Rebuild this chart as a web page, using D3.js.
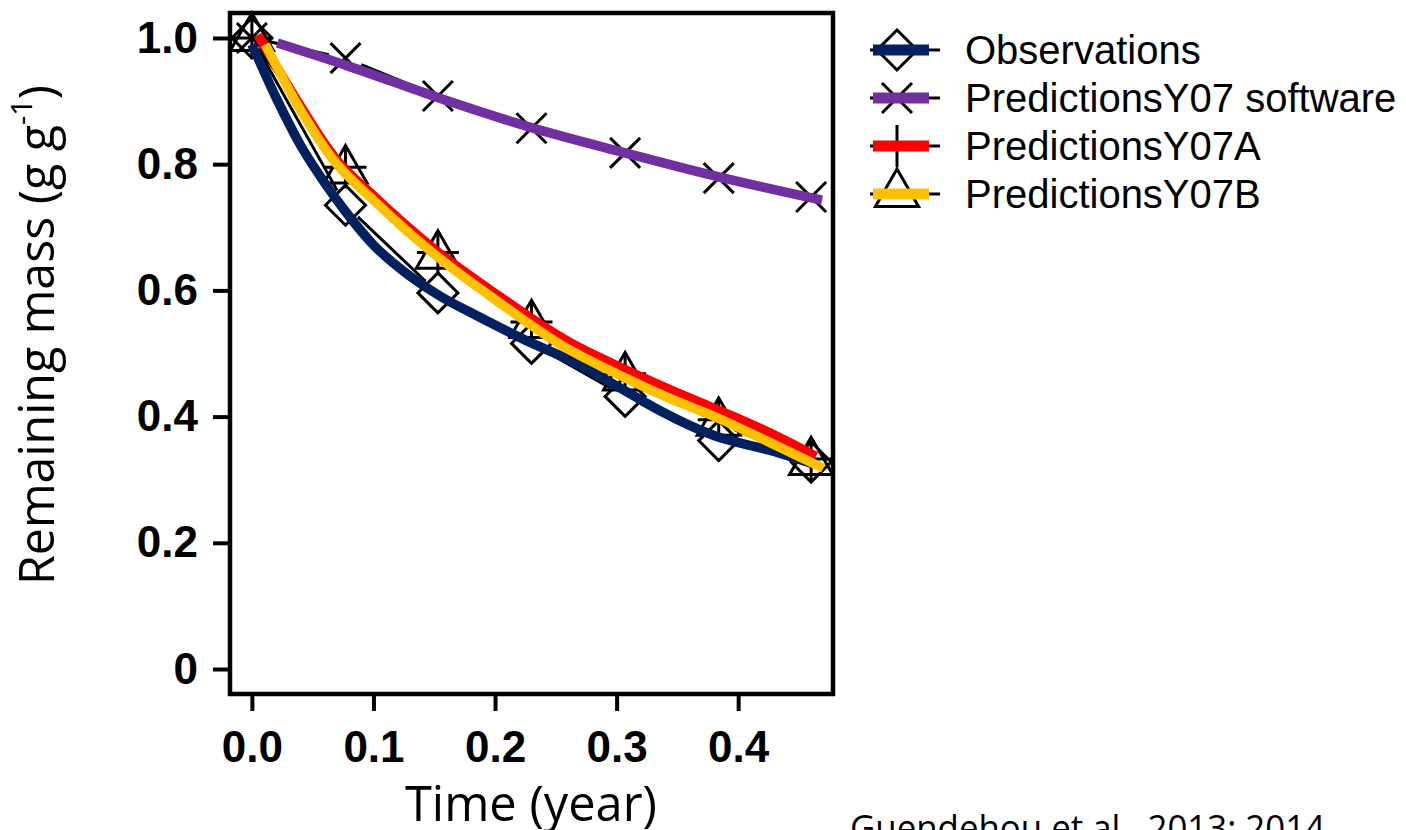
<!DOCTYPE html>
<html>
<head>
<meta charset="utf-8">
<script src="https://cdn.jsdelivr.net/npm/d3@7"></script>
<style>
  body { margin: 0; background: white; }
</style>
</head>
<body>
<div id="container"></div>
<script>
let w = 1406;
let h = 830;

// sampling dates of the litterbags (year)
let times = [0, 0.077, 0.153, 0.230, 0.307, 0.384, 0.460];

// remaining mass at each sampling date (black R markers)
let observations = [1.0, 0.735, 0.596, 0.516, 0.432, 0.362, 0.328];
let predSoftware = [1.0, 0.968, 0.908, 0.857, 0.818, 0.778, 0.748];
let predA = [1.0, 0.795, 0.660, 0.550, 0.468, 0.395, 0.333];
let predB = [1.0, 0.790, 0.655, 0.545, 0.462, 0.390, 0.328];

// coloured curves drawn over the R plot
let obsCurveT = [0, 0.02, 0.04, 0.06, 0.077, 0.1, 0.125, 0.154, 0.188, 0.224, 0.261, 0.306, 0.335, 0.38, 0.425, 0.46];
let obsCurveV = [0.99, 0.905, 0.83, 0.77, 0.725, 0.672, 0.63, 0.592, 0.557, 0.522, 0.49, 0.442, 0.41, 0.37, 0.347, 0.326];
let softCurveT = [0.021, 0.077, 0.154, 0.23, 0.307, 0.384, 0.469];
let softCurveV = [0.992, 0.957, 0.905, 0.858, 0.818, 0.78, 0.743];
let aCurveT = [0.005, 0.04, 0.067, 0.1, 0.149, 0.204, 0.261, 0.30, 0.34, 0.384, 0.425, 0.464];
let aCurveV = [1.005, 0.892, 0.813, 0.75, 0.667, 0.59, 0.518, 0.481, 0.446, 0.41, 0.375, 0.337];
let bCurveT = [0.011, 0.04, 0.067, 0.1, 0.149, 0.204, 0.261, 0.30, 0.34, 0.384, 0.425, 0.47];
let bCurveV = [0.99, 0.886, 0.807, 0.743, 0.659, 0.58, 0.506, 0.468, 0.432, 0.397, 0.36, 0.318];

let seriesNames = ["Observations", "PredictionsY07 software", "PredictionsY07A", "PredictionsY07B"];
let seriesColors = ["#002060", "#7030A0", "#FF0000", "#FFC000"];
let seriesShapes = ["diamond", "cross", "plus", "triangle"];

let xTicks = [0, 0.1, 0.2, 0.3, 0.4];
let xTickLabels = ["0.0", "0.1", "0.2", "0.3", "0.4"];
let yTicks = [0, 0.2, 0.4, 0.6, 0.8, 1.0];
let yTickLabels = ["0", "0.2", "0.4", "0.6", "0.8", "1.0"];

let box = { left: 230, top: 13, right: 833, bottom: 694 };

let viz = d3.select("#container")
  .append("svg")
  .attr("width", w)
  .attr("height", h)
  .style("background-color", "white");

let xScale = d3.scaleLinear().domain([-0.018, 0.478]).range([box.left, box.right]);
let yScale = d3.scaleLinear().domain([-0.0396, 1.0396]).range([box.bottom, box.top]);

function markerPath(shape, cx, cy) {
  let p = d3.path();
  if (shape == "diamond") {
    let r = 20;
    p.moveTo(cx, cy - r); p.lineTo(cx + r, cy); p.lineTo(cx, cy + r); p.lineTo(cx - r, cy); p.closePath();
  } else if (shape == "cross") {
    let r = 15;
    p.moveTo(cx - r, cy - r); p.lineTo(cx + r, cy + r);
    p.moveTo(cx - r, cy + r); p.lineTo(cx + r, cy - r);
  } else if (shape == "plus") {
    let r = 21;
    p.moveTo(cx - r, cy); p.lineTo(cx + r, cy);
    p.moveTo(cx, cy - r); p.lineTo(cx, cy + r);
  } else {
    let r = 16;
    p.moveTo(cx, cy - 1.555 * r); p.lineTo(cx + 1.347 * r, cy + 0.778 * r); p.lineTo(cx - 1.347 * r, cy + 0.778 * r); p.closePath();
  }
  return p.toString();
}

// R "type b" line: segments between points with a gap round each point
function gappedPath(pts, gap) {
  let p = d3.path();
  for (let i = 0; i < pts.length - 1; i++) {
    let [x1, y1] = pts[i];
    let [x2, y2] = pts[i + 1];
    let len = Math.hypot(x2 - x1, y2 - y1);
    if (len <= 2 * gap) continue;
    let ux = (x2 - x1) / len, uy = (y2 - y1) / len;
    p.moveTo(x1 + ux * gap, y1 + uy * gap);
    p.lineTo(x2 - ux * gap, y2 - uy * gap);
  }
  return p.toString();
}

let markerData = [observations, predSoftware, predA, predB];
let curveData = [[obsCurveT, obsCurveV], [softCurveT, softCurveV], [aCurveT, aCurveV], [bCurveT, bCurveV]];

// black R lines and markers
markerData.forEach((vals, s) => {
  let pts = times.map((t, i) => [xScale(t), yScale(vals[i])]);
  viz.append("path")
    .attr("d", gappedPath(pts, 17))
    .attr("fill", "none")
    .attr("stroke", "black")
    .attr("stroke-width", 3);
  viz.selectAll(".m" + s)
    .data(pts)
    .enter()
    .append("path")
    .attr("class", "m" + s)
    .attr("d", d => markerPath(seriesShapes[s], d[0], d[1]))
    .attr("fill", "none")
    .attr("stroke", "black")
    .attr("stroke-width", 3);
});

// coloured curves
let line = d3.line()
  .x(d => xScale(d[0]))
  .y(d => yScale(d[1]))
  .curve(d3.curveMonotoneX);

curveData.forEach((c, s) => {
  let pts = c[0].map((t, i) => [t, c[1][i]]);
  viz.append("path")
    .attr("d", line(pts))
    .attr("fill", "none")
    .attr("stroke", seriesColors[s])
    .attr("stroke-width", 9.5);
});

// frame
viz.append("rect")
  .attr("x", box.left)
  .attr("y", box.top)
  .attr("width", box.right - box.left)
  .attr("height", box.bottom - box.top)
  .attr("fill", "none")
  .attr("stroke", "black")
  .attr("stroke-width", 4.5);

let yAxis = viz.append("g")
  .attr("transform", "translate(" + box.left + ", 0)")
  .call(d3.axisLeft(yScale).tickValues(yTicks).tickSize(17).tickPadding(15)
    .tickFormat((d, i) => yTickLabels[i]));

let xAxis = viz.append("g")
  .attr("transform", "translate(0, " + box.bottom + ")")
  .call(d3.axisBottom(xScale).tickValues(xTicks).tickSize(17).tickPadding(20)
    .tickFormat((d, i) => xTickLabels[i]));

[yAxis, xAxis].forEach(ax => {
  ax.select(".domain").remove();
  ax.selectAll(".tick line").attr("stroke", "black").attr("stroke-width", 4);
  ax.selectAll(".tick text")
    .attr("fill", "black")
    .attr("font-family", "'Liberation Sans', Arial, sans-serif")
    .attr("font-weight", "bold")
    .attr("font-size", 44);
});

// axis titles
let yTitle = viz.append("text")
  .attr("transform", "translate(54, 585) rotate(-90)")
  .attr("font-family", "'Open Sans', sans-serif")
  .attr("font-size", 50)
  .attr("fill", "black")
  .attr("textLength", 500)
  .attr("lengthAdjust", "spacingAndGlyphs");
yTitle.append("tspan").text("Remaining mass (g g");
yTitle.append("tspan").attr("font-size", 30).attr("dy", -22).text("-1");
yTitle.append("tspan").attr("dy", 22).text(")");

viz.append("text")
  .attr("x", 405)
  .attr("y", 821)
  .attr("font-family", "'Open Sans', sans-serif")
  .attr("font-size", 50)
  .attr("fill", "black")
  .attr("textLength", 252)
  .attr("lengthAdjust", "spacingAndGlyphs")
  .text("Time (year)");

viz.append("text")
  .attr("x", 850)
  .attr("y", 841)
  .attr("font-family", "'Open Sans', sans-serif")
  .attr("font-size", 36)
  .attr("fill", "black")
  .attr("textLength", 475)
  .attr("lengthAdjust", "spacingAndGlyphs")
  .text("Guendehou et al., 2013; 2014");

// legend
let legendRows = [50, 98, 146, 194];
let legend = viz.selectAll(".legend-row")
  .data(seriesNames)
  .enter()
  .append("g")
  .attr("class", "legend-row")
  .attr("transform", (d, i) => "translate(0, " + legendRows[i] + ")");

legend.append("line")
  .attr("x1", 870).attr("x2", 940)
  .attr("y1", 0).attr("y2", 0)
  .attr("stroke", "black")
  .attr("stroke-width", 3);
legend.append("path")
  .attr("d", (d, i) => markerPath(seriesShapes[i], 897, 0))
  .attr("fill", "none")
  .attr("stroke", "black")
  .attr("stroke-width", 3);
legend.append("line")
  .attr("x1", 873).attr("x2", 929)
  .attr("y1", 0).attr("y2", 0)
  .attr("stroke", (d, i) => seriesColors[i])
  .attr("stroke-width", 11);
legend.append("text")
  .attr("x", 965)
  .attr("y", 14)
  .attr("font-family", "'Liberation Sans', Arial, sans-serif")
  .attr("font-size", 40)
  .attr("fill", "black")
  .text(d => d);
</script>
</body>
</html>
